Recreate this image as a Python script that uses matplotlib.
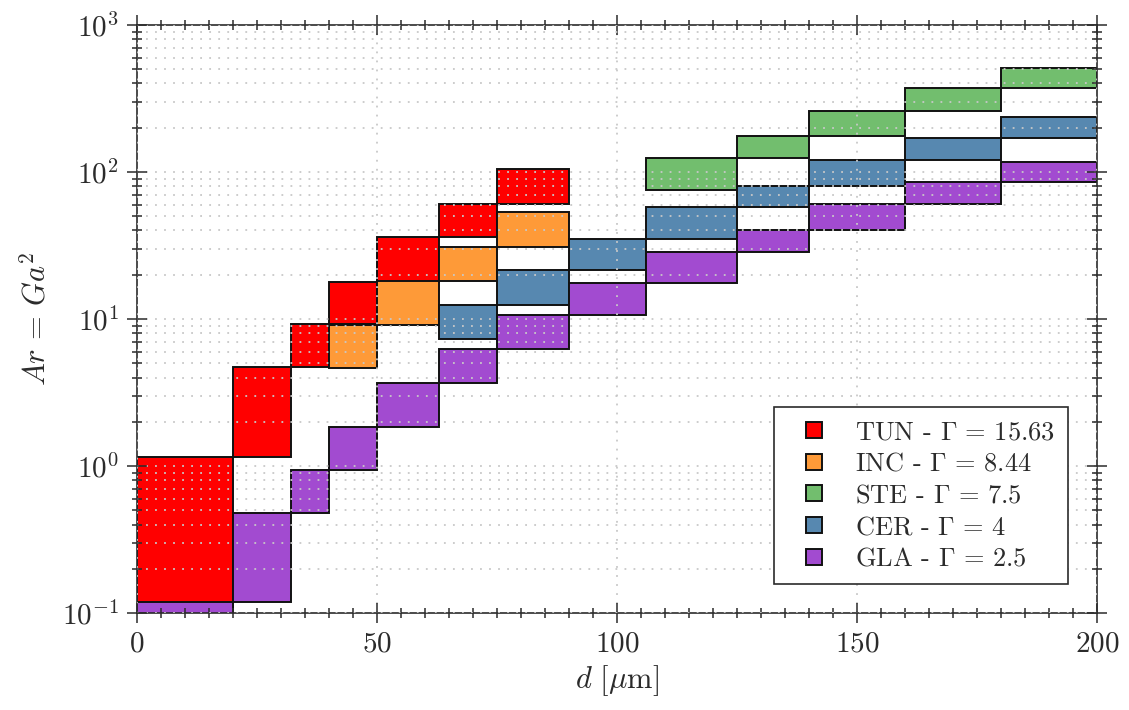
import numpy as np
import matplotlib
matplotlib.use("Agg")
import matplotlib.pyplot as plt
from matplotlib.lines import Line2D
from matplotlib.ticker import MultipleLocator, LogLocator, NullFormatter

plt.rcParams['font.family'] = ['cmr10', 'DejaVu Serif']
plt.rcParams['mathtext.fontset'] = 'cm'
plt.rcParams['axes.formatter.use_mathtext'] = True
plt.rcParams['axes.unicode_minus'] = False

# sieve class edges (micrometres) and Archimedes number at each edge, per powder
tun_d = [0, 20, 32, 40, 50, 63, 75, 90]
tun_ar = [0, 1.15, 4.70, 9.19, 17.9, 35.9, 60.5, 104.6]

inc_d = [40, 50, 63, 75, 90]
inc_ar = [4.67, 9.12, 18.25, 30.8, 53.2]

ste_d = [106, 125, 140, 160, 180, 200]
ste_ar = [75.9, 124.5, 175.0, 261.2, 371.9, 510.1]

cer_d = [63, 75, 90, 106, 125, 140, 160, 180, 200]
cer_ar = [7.36, 12.42, 21.45, 35.05, 57.5, 80.8, 120.5, 171.6, 235.4]

gla_d = [0, 20, 32, 40, 50, 63, 75, 90, 106, 125, 140, 160, 180, 200]
gla_ar = [0, 0.118, 0.482, 0.942, 1.84, 3.68, 6.21, 10.73, 17.53, 28.74,
          40.38, 60.27, 85.82, 117.7]

names = ['TUN', 'INC', 'STE', 'CER', 'GLA']
gammas = ['15.63', '8.44', '7.5', '4', '2.5']
colors = ['#ff0000', '#fe9a38', '#72be6e', '#5788b0', '#a24bd0']
edges_d = [tun_d, inc_d, ste_d, cer_d, gla_d]
edges_ar = [tun_ar, inc_ar, ste_ar, cer_ar, gla_ar]

txt = '#2b2b2b'
edge = '#111111'


def plot_classes(ax, d, ar, color):
    d = np.asarray(d, dtype=float)
    ar = np.asarray(ar, dtype=float)
    ax.bar(d[:-1], np.diff(ar), width=np.diff(d), bottom=ar[:-1],
           align='edge', color=color, edgecolor=edge, linewidth=1.4)


fig = plt.figure(figsize=(11.29, 7.10), dpi=100)
ax = fig.add_axes([0.1213, 0.1366, 0.8504, 0.8282])

handles = []
for d, ar, c, n, g in zip(edges_d, edges_ar, colors, names, gammas):
    plot_classes(ax, d, ar, c)
    handles.append(Line2D([], [], linestyle='none', marker='s', markersize=11,
                          markerfacecolor=c, markeredgecolor=edge,
                          markeredgewidth=1.4,
                          label=r'%s - $\Gamma\,=\,%s$' % (n, g)))

ax.set_yscale('log')
ax.set_xlim(0, 200)
ax.set_ylim(0.1, 1000)

ax.xaxis.set_major_locator(MultipleLocator(50))
ax.xaxis.set_minor_locator(MultipleLocator(5))
ax.yaxis.set_major_locator(LogLocator(base=10, numticks=10))
ax.yaxis.set_minor_locator(LogLocator(base=10, subs=np.arange(2, 10), numticks=20))
ax.yaxis.set_minor_formatter(NullFormatter())

ax.tick_params(which='both', direction='inout', top=True, right=True,
               color=txt, labelcolor=txt, labelsize=21, width=1.1)
ax.tick_params(which='major', length=14, pad=6)
ax.tick_params(which='minor', length=7)
for sp in ax.spines.values():
    sp.set_color(txt)
    sp.set_linewidth(1.2)

grid_kw = dict(color='#c8c8c8', linestyle=(0, (1, 4)), linewidth=1.3)
ax.set_axisbelow(False)
ax.grid(True, which='major', axis='x', **grid_kw)
ax.grid(True, which='both', axis='y', **grid_kw)

ax.set_xlabel(r'$d\ [\mu\mathrm{m}]$', fontsize=22, color=txt, labelpad=4)
ax.set_ylabel(r'$Ar\,=\,Ga^2$', fontsize=22, color=txt, labelpad=8)

leg = ax.legend(handles=handles, loc='lower right', fontsize=19,
                handlelength=2.0, handletextpad=0.55, borderaxespad=1.1,
                labelspacing=0.3, fancybox=False, framealpha=1,
                edgecolor=txt, borderpad=0.5)
leg.get_frame().set_linewidth(1.2)
for t in leg.get_texts():
    t.set_color(txt)

fig.savefig('out.png', dpi=100)
